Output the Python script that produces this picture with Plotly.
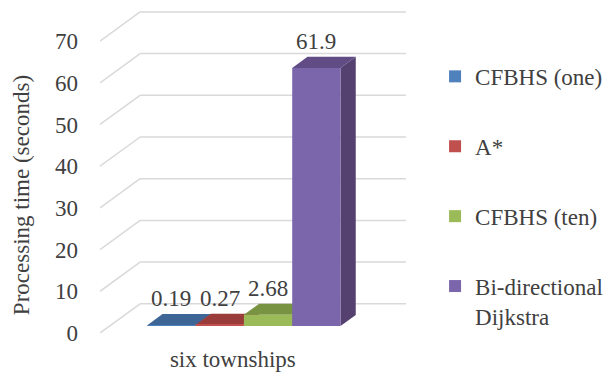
import plotly.graph_objects as go

# ---- data ----
category = "six townships"
series = ["CFBHS (one)", "A*", "CFBHS (ten)", "Bi-directional<br>Dijkstra"]
values = [0.19, 0.27, 2.68, 61.9]
value_labels = ["0.19", "0.27", "2.68", "61.9"]
y_ticks = [0, 10, 20, 30, 40, 50, 60, 70]
y_title = "Processing time (seconds)"

# ---- styles ----
front_colors = ["#4F81BD", "#C0504D", "#9BBB59", "#7B66AC"]
top_colors = ["#3D6596", "#9A3C3A", "#789443", "#624C86"]
side_colors = ["#345580", "#83302E", "#68803A", "#544170"]
FONT = "Times New Roman, Liberation Serif, Times, serif"
TXT = "#404040"
GRID = "#D9D9D9"

# 3D projection geometry (x in bar-width units, y in data units)
DX, DY = 0.83, 7.0          # full depth offset of the back wall
FD, BD = 0.24, 0.62         # depth fractions of bar front / back faces
GAP = 0.78                  # gap before first bar on the floor
XMAX, YMAX = 6.335, 77.46
sdx, sdy = (BD - FD) * DX, (BD - FD) * DY
base = FD * DY

fig = go.Figure()
shapes = []
annotations = []

# gridlines: diagonal side wall + back wall horizontals
for t in y_ticks:
    shapes.append(dict(type="line", xref="x", yref="y", x0=0, y0=t, x1=DX, y1=t + DY,
                       line=dict(color=GRID, width=1.5), layer="below"))
    shapes.append(dict(type="line", xref="x", yref="y", x0=DX, y0=t + DY, x1=XMAX, y1=t + DY,
                       line=dict(color=GRID, width=1.5), layer="below"))

for i, (name, v) in enumerate(zip(series, values)):
    xl = GAP + i + FD * DX
    xr = xl + 1
    top = base + v
    fig.add_trace(go.Bar(
        x=[xl + 0.5], y=[v], base=[base], width=[1], name=name,
        marker=dict(color=front_colors[i], line=dict(width=0)),
        hoverinfo="skip", legendgroup=f"g{i}",
    ))
    # side face
    shapes.append(dict(type="path", xref="x", yref="y", layer="below",
                       path=f"M{xr},{base} L{xr},{top} L{xr + sdx},{top + sdy} L{xr + sdx},{base + sdy} Z",
                       fillcolor=side_colors[i], line=dict(width=0)))
    # top face
    shapes.append(dict(type="path", xref="x", yref="y", layer="below",
                       path=f"M{xl},{top} L{xr},{top} L{xr + sdx},{top + sdy} L{xl + sdx},{top + sdy} Z",
                       fillcolor=top_colors[i], line=dict(width=0)))
    annotations.append(dict(x=xl + 0.5, y=top + sdy, xref="x", yref="y", text=value_labels[i],
                            showarrow=False, yanchor="bottom", yshift=1,
                            font=dict(family=FONT, size=23, color=TXT)))

annotations.append(dict(x=-0.258, y=0.427, xref="paper", yref="paper", text=y_title,
                        textangle=-90, showarrow=False, xanchor="center", yanchor="middle",
                        font=dict(family=FONT, size=23, color=TXT)))

fig.update_layout(
    width=608, height=381,
    margin=dict(l=100, r=202, t=10, b=48, autoexpand=False),
    paper_bgcolor="white", plot_bgcolor="white",
    barmode="overlay",
    font=dict(family=FONT, size=23, color=TXT),
    shapes=shapes, annotations=annotations,
    xaxis=dict(range=[0, XMAX], tickvals=[2.75], ticktext=[category], showgrid=False,
               zeroline=False, showline=False, ticks="", ticklabelstandoff=10, fixedrange=True,
               automargin=False),
    yaxis=dict(range=[0, YMAX], tickvals=y_ticks, showgrid=False, zeroline=False,
               showline=False, ticks="", ticklabelstandoff=21, fixedrange=True,
               automargin=False),
    legend=dict(x=1.095, y=0.861, xanchor="left", yanchor="top", tracegroupgap=37,
                valign="top", font=dict(family=FONT, size=23, color=TXT),
                bgcolor="rgba(0,0,0,0)"),
    showlegend=True,
)

fig.write_html("out.html")
